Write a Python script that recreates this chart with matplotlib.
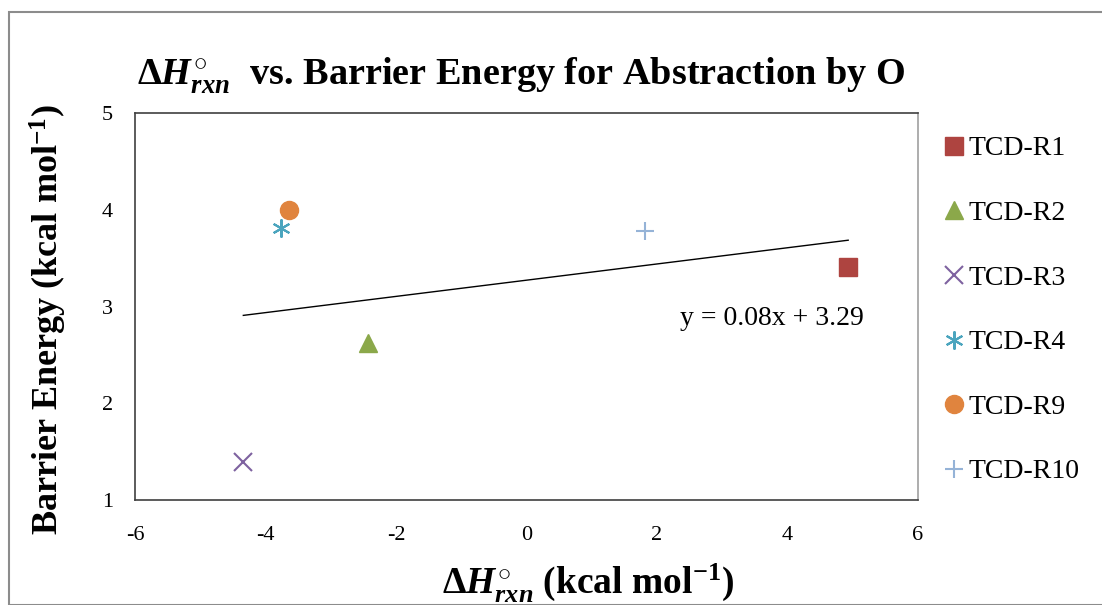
import numpy as np
import matplotlib
matplotlib.use("Agg")
import matplotlib.pyplot as plt
from matplotlib.patches import Rectangle

plt.rcParams['font.family'] = ['Liberation Serif', 'DejaVu Serif']
plt.rcParams['mathtext.fontset'] = 'custom'
plt.rcParams['mathtext.rm'] = 'Liberation Serif:bold'
plt.rcParams['mathtext.it'] = 'Liberation Serif:italic:bold'
plt.rcParams['mathtext.bf'] = 'Liberation Serif:bold'
plt.rcParams['axes.unicode_minus'] = False

labels = ["TCD-R1", "TCD-R2", "TCD-R3", "TCD-R4", "TCD-R9", "TCD-R10"]
dh_rxn = [4.93, -2.43, -4.34, -3.76, -3.64, 1.82]
barrier = [3.41, 2.62, 1.39, 3.81, 4.00, 3.78]
markers = ["s", "^", "x", (6, 2, 0), "o", "+"]
colors = ["#AE4440", "#8BA84A", "#7E62A0", "#4BA5BE", "#E0843E", "#95B3D7"]
sizes = [13, 13, 13, 13, 13, 13]
xticks = [-6, -4, -2, 0, 2, 4, 6]
yticks = [1, 2, 3, 4, 5]
eq_text = "y = 0.08x + 3.29"

W, H = 1102, 605
fig = plt.figure(figsize=(W / 100, H / 100), dpi=100)
fig.patches.append(Rectangle((9 / W, 0), 1.2, 1 - 12 / H, transform=fig.transFigure,
                             fill=False, edgecolor="#8C8C8C", linewidth=1.5))
ax = fig.add_axes([135 / W, 1 - 500 / H, (918 - 135) / W, (500 - 113) / H])

for x, y, lab, m, c, s in zip(dh_rxn, barrier, labels, markers, colors, sizes):
    thin = m in ("x", "+") or isinstance(m, tuple)
    ax.plot([x], [y], linestyle="none", marker=m, color=c, markersize=s,
            markeredgewidth=1.5 if thin else 1, markeredgecolor=c, label=lab)

xs = np.array(dh_rxn)
k, b = np.polyfit(xs, np.array(barrier), 1)
xl = np.array([xs.min(), xs.max()])
ax.plot(xl, k * xl + b, color="black", linewidth=1.0)

ax.text(0.696, 0.47, eq_text, transform=ax.transAxes, fontsize=20, va="center", ha="left")

ax.set_xlim(-6, 6)
ax.set_ylim(1, 5)
ax.set_xticks(xticks)
ax.set_yticks(yticks)
ax.tick_params(length=0, labelsize=16)
ax.tick_params(axis="x", pad=19)
ax.tick_params(axis="y", pad=16)
for sp in ax.spines.values():
    sp.set_color("#404040")
    sp.set_linewidth(1.2)
ax.spines["right"].set_color("#A0A0A0")

fig.text(521 / W, 1 - 75 / H,
         r"$\Delta\mathit{H}^{\circ}_{\mathit{rxn}}$  vs. Barrier Energy for Abstraction by O",
         ha="center", va="center", fontsize=27.5, fontweight="bold")
fig.text(588 / W, 1 - 583 / H, r"$\Delta\mathit{H}^{\circ}_{\mathit{rxn}}$ (kcal mol$^{-1}$)",
         ha="center", va="center", fontsize=27, fontweight="bold")
fig.text(48 / W, 1 - 320 / H, r"Barrier Energy (kcal mol$^{-1}$)",
         ha="center", va="center", rotation=90, fontsize=26, fontweight="bold")

leg = ax.legend(loc="upper left", bbox_to_anchor=(946 / W, 1 - 136 / H),
                bbox_transform=fig.transFigure, frameon=False, fontsize=20,
                labelspacing=1.41, handlelength=0.6, handletextpad=0.2,
                borderaxespad=0, borderpad=0)

fig.savefig("out.png", dpi=100, facecolor="white")
